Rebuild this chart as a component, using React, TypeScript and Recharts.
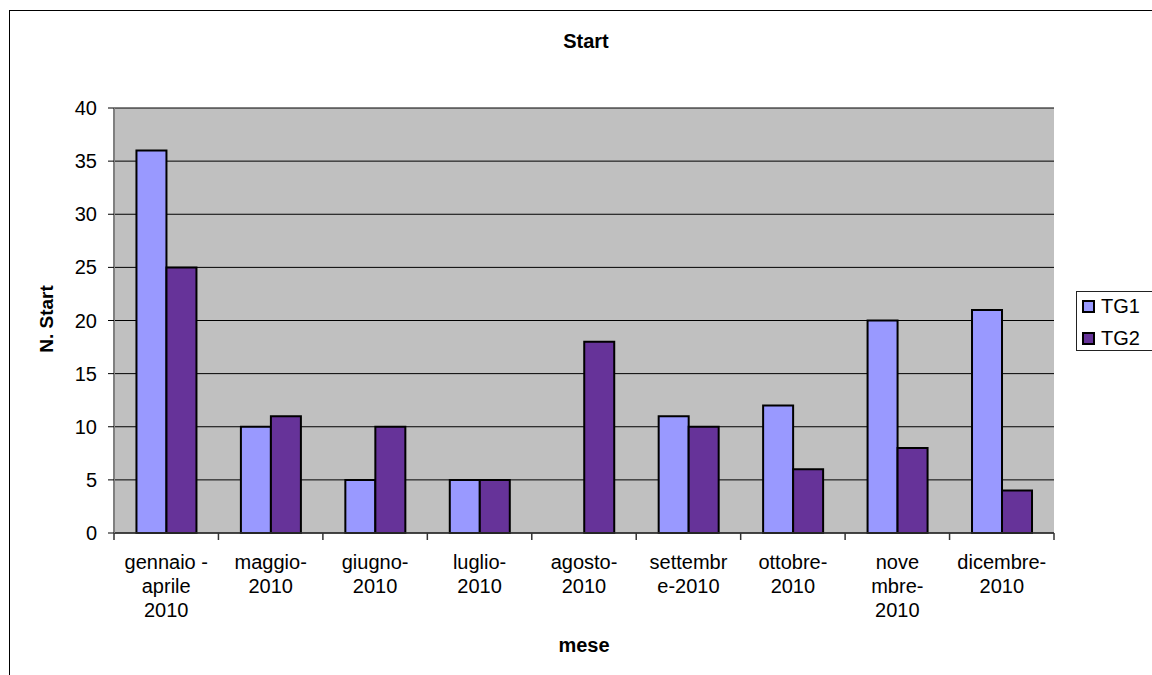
import { BarChart, Bar, XAxis, YAxis, CartesianGrid, Legend, Customized } from 'recharts'

const months = [
  'gennaio -\naprile\n2010',
  'maggio-\n2010',
  'giugno-\n2010',
  'luglio-\n2010',
  'agosto-\n2010',
  'settembr\ne-2010',
  'ottobre-\n2010',
  'nove\nmbre-\n2010',
  'dicembre-\n2010',
]
const tg1 = [36, 10, 5, 5, 0, 11, 12, 20, 21]
const tg2 = [25, 11, 10, 5, 18, 10, 6, 8, 4]
const yTicks = [0, 5, 10, 15, 20, 25, 30, 35, 40]

const data = months.map((m, i) => ({ mese: m, TG1: tg1[i], TG2: tg2[i] }))

const FONT = '"Liberation Sans", Arial, sans-serif'
const PLOT_LEFT = 114
const PLOT_RIGHT = 1054
const BAND = (PLOT_RIGHT - PLOT_LEFT) / months.length

function MonthTick(props: any) {
  const { x, y, payload, index } = props
  const lines = String(payload.value).split('\n')
  return (
    <g>
      <line x1={x - BAND / 2} x2={x - BAND / 2} y1={y} y2={y + 7} stroke="#333" strokeWidth={1.5} />
      {index === months.length - 1 && (
        <line x1={x + BAND / 2} x2={x + BAND / 2} y1={y} y2={y + 7} stroke="#333" strokeWidth={1.5} />
      )}
      <text x={x} textAnchor="middle" fontSize={20} fill="#000" fontFamily={FONT}>
        {lines.map((l, i) => (
          <tspan key={i} x={x} y={y + 36 + i * 24}>{l}</tspan>
        ))}
      </text>
    </g>
  )
}

function LegendBox() {
  const items = [
    { name: 'TG1', color: '#9999FF' },
    { name: 'TG2', color: '#663399' },
  ]
  return (
    <div style={{ position: 'relative', width: 80, height: 60, border: '1px solid #222', boxSizing: 'border-box', background: '#fff', fontFamily: FONT }}>
      {items.map((it, i) => (
        <div key={it.name} style={{ position: 'absolute', left: 5, top: 2 + i * 32, height: 24, display: 'flex', alignItems: 'center' }}>
          <span style={{ display: 'inline-block', width: 9, height: 9, border: '2px solid #000', background: it.color }} />
          <span style={{ marginLeft: 6, fontSize: 20, lineHeight: '24px', color: '#000' }}>{it.name}</span>
        </div>
      ))}
    </div>
  )
}

function Texts() {
  return (
    <g fontFamily={FONT} fill="#000" fontWeight="bold">
      <text x={586} y={48} textAnchor="middle" fontSize={20}>Start</text>
      <text x={53} y={319} textAnchor="middle" fontSize={19} transform="rotate(-90, 53, 319)">N. Start</text>
      <text x={584} y={652} textAnchor="middle" fontSize={20}>mese</text>
    </g>
  )
}

export default function App() {
  return (
    <div style={{ position: 'absolute', left: 0, top: 0, width: 1152, height: 675, overflow: 'hidden', background: '#fff', fontFamily: FONT }}>
      <div style={{ position: 'absolute', left: 9, top: 10, width: 1150, height: 670, border: '1px solid #000' }} />
      <div style={{ position: 'absolute', left: 0, top: 0 }}>
        <BarChart
          width={1152}
          height={675}
          data={data}
          margin={{ top: 108, right: 1152 - PLOT_RIGHT, bottom: 0, left: 0 }}
          barCategoryGap="21.5%"
          barGap={0}
        >
          <CartesianGrid vertical={false} stroke="#000" fill="#C0C0C0" fillOpacity={1} />
          <XAxis
            dataKey="mese"
            height={142}
            interval={0}
            tickSize={0}
            tickMargin={0}
            tickLine={false}
            tick={<MonthTick />}
            axisLine={{ stroke: '#333', strokeWidth: 1.5 }}
          />
          <XAxis xAxisId="top" orientation="top" dataKey="mese" height={0} tick={false} tickLine={false} axisLine={{ stroke: '#808080', strokeWidth: 2 }} />
          <YAxis
            width={PLOT_LEFT}
            domain={[0, 40]}
            ticks={yTicks}
            tickSize={6}
            tickMargin={11}
            tick={{ fill: '#000', fontSize: 20, fontFamily: FONT }}
            tickLine={{ stroke: '#000' }}
            axisLine={{ stroke: '#808080', strokeWidth: 2 }}
          />
          <YAxis yAxisId="right" orientation="right" width={0} domain={[0, 40]} tick={false} tickLine={false} axisLine={{ stroke: '#808080', strokeWidth: 2 }} />
          <Bar dataKey="TG1" fill="#9999FF" stroke="#000" strokeWidth={2} isAnimationActive={false} />
          <Bar dataKey="TG2" fill="#663399" stroke="#000" strokeWidth={2} isAnimationActive={false} />
          <Legend
            layout="horizontal"
            verticalAlign="middle"
            align="center"
            wrapperStyle={{ left: 1076, top: 291, width: 80, height: 60 }}
            content={() => <LegendBox />}
          />
          <Customized component={<Texts />} />
        </BarChart>
      </div>
    </div>
  )
}
